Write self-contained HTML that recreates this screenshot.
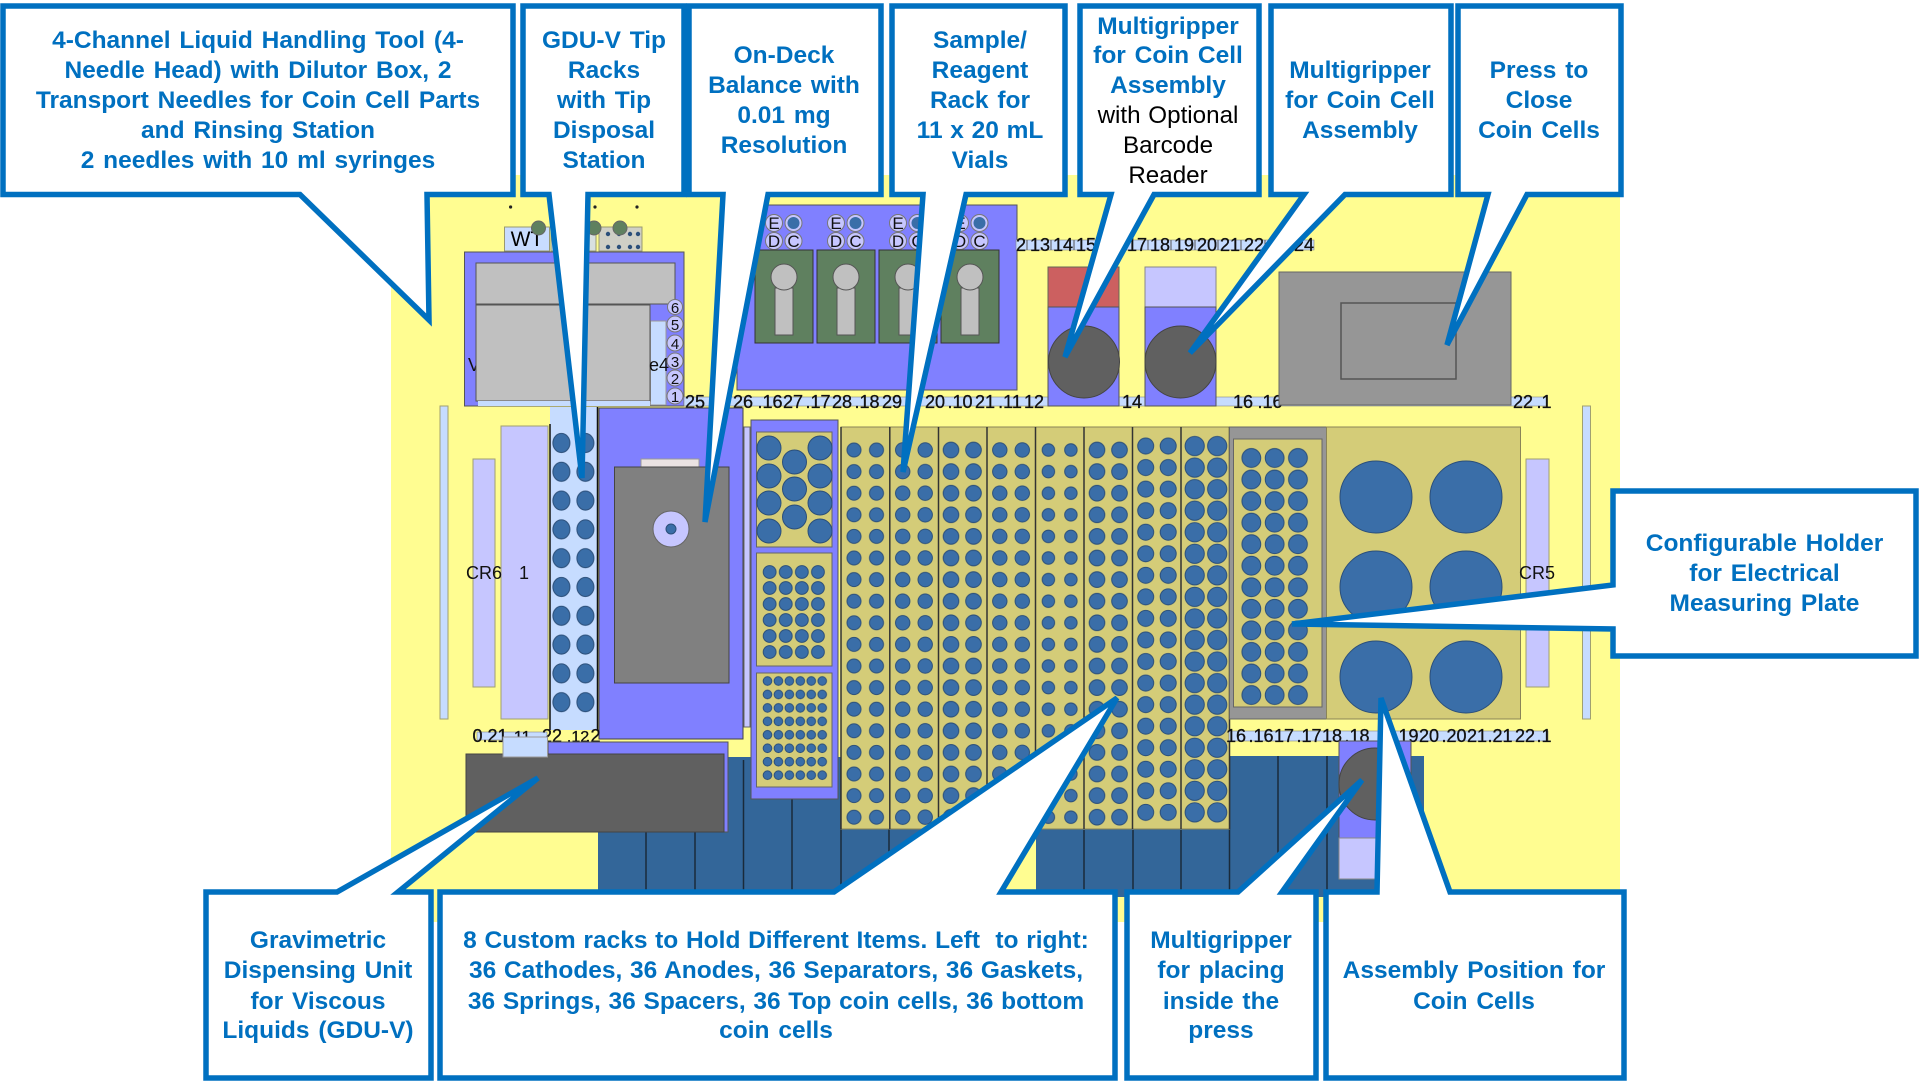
<!DOCTYPE html>
<html><head><meta charset="utf-8"><title>Deck layout</title>
<style>html,body{margin:0;padding:0;background:#fff}svg{display:block}
text{font-family:"Liberation Sans",sans-serif}
.c{font-size:24.5px;font-weight:bold;fill:#0070C0;text-anchor:middle;word-spacing:2px}
.w{word-spacing:.9px}
.k{font-size:24.2px;fill:#000;text-anchor:middle;word-spacing:1px}
.n{font-size:18px;fill:#111;text-anchor:middle;stroke:#111;stroke-width:.3}
.d{font-size:17px;fill:#111;text-anchor:middle}
.co{fill:#fff;stroke:#0070C0;stroke-width:5.5;stroke-linejoin:miter;stroke-miterlimit:4}
</style></head><body>
<svg xmlns="http://www.w3.org/2000/svg" width="1920" height="1083" viewBox="0 0 1920 1083">
<defs>
<pattern id="r1" patternUnits="userSpaceOnUse" x="842.75" y="439.2" width="22.5" height="21.6"><circle cx="11.25" cy="10.8" r="7" fill="#3A6EA8" stroke="#2B4F7A"/></pattern>
<pattern id="r2" patternUnits="userSpaceOnUse" x="891.45" y="439.2" width="22.5" height="21.6"><circle cx="11.25" cy="10.8" r="7.2" fill="#3A6EA8" stroke="#2B4F7A"/></pattern>
<pattern id="r3" patternUnits="userSpaceOnUse" x="939.75" y="439.2" width="22.5" height="21.6"><circle cx="11.25" cy="10.8" r="7.8" fill="#3A6EA8" stroke="#2B4F7A"/></pattern>
<pattern id="r4" patternUnits="userSpaceOnUse" x="988.55" y="439.2" width="22.5" height="21.6"><circle cx="11.25" cy="10.8" r="7.2" fill="#3A6EA8" stroke="#2B4F7A"/></pattern>
<pattern id="r5" patternUnits="userSpaceOnUse" x="1037.15" y="439.2" width="22.5" height="21.6"><circle cx="11.25" cy="10.8" r="6.2" fill="#3A6EA8" stroke="#2B4F7A"/></pattern>
<pattern id="r6" patternUnits="userSpaceOnUse" x="1085.75" y="439.2" width="22.5" height="21.6"><circle cx="11.25" cy="10.8" r="7.8" fill="#3A6EA8" stroke="#2B4F7A"/></pattern>
<pattern id="r7" patternUnits="userSpaceOnUse" x="1134.45" y="435.2" width="22.5" height="21.55"><circle cx="11.25" cy="10.8" r="8" fill="#3A6EA8" stroke="#2B4F7A"/></pattern>
<pattern id="r8" patternUnits="userSpaceOnUse" x="1183.45" y="435.2" width="22.5" height="21.55"><circle cx="11.25" cy="10.8" r="9.6" fill="#3A6EA8" stroke="#2B4F7A"/></pattern>
<pattern id="tip" patternUnits="userSpaceOnUse" x="549.4" y="428.6" width="24" height="28.8"><ellipse cx="12" cy="14.4" rx="8.5" ry="9.5" fill="#3A6EA8" stroke="#2B4F7A"/></pattern>
<pattern id="s2" patternUnits="userSpaceOnUse" x="761.6" y="564" width="16.1" height="16"><circle cx="8.05" cy="8" r="6.4" fill="#3A6EA8" stroke="#2B4F7A"/></pattern>
<pattern id="s3" patternUnits="userSpaceOnUse" x="762" y="674.3" width="10.95" height="13.45"><circle cx="5.47" cy="6.72" r="4.3" fill="#3A6EA8" stroke="#2B4F7A"/></pattern>
<pattern id="rr" patternUnits="userSpaceOnUse" x="1239.7" y="447.2" width="23.3" height="21.55"><circle cx="11.65" cy="10.8" r="9.4" fill="#3A6EA8" stroke="#2B4F7A"/></pattern>
</defs>
<rect width="1920" height="1083" fill="#fff"/>
<rect x="391" y="175" width="1229" height="747" fill="#FFFD91"/>

<!-- top-left tool -->
<circle cx="510.6" cy="207" r="1.6" fill="#222"/><circle cx="595" cy="207" r="1.6" fill="#222"/><circle cx="637" cy="207" r="1.6" fill="#222"/>
<rect x="504.5" y="227" width="45" height="24" fill="#C8DCFF" stroke="#9a9a70"/>
<text x="527" y="246" class="k" style="font-size:21px">WT</text>
<rect x="551" y="227" width="45" height="24" fill="#D8E0E0" stroke="#9a9a70"/>
<rect x="599" y="227" width="43" height="24" fill="#CFCFC6" stroke="#9a9a70"/>
<g fill="#2B4F7A"><circle cx="608" cy="234" r="2.2"/><circle cx="619" cy="234" r="2.2"/><circle cx="630" cy="234" r="2.2"/><circle cx="638" cy="234" r="2.2"/><circle cx="608" cy="247" r="2.2"/><circle cx="619" cy="247" r="2.2"/><circle cx="630" cy="247" r="2.2"/><circle cx="638" cy="247" r="2.2"/></g>
<g fill="#5F805F" stroke="#666"><circle cx="538.5" cy="228" r="7"/><circle cx="594" cy="228" r="7"/><circle cx="620" cy="228" r="7"/></g>
<rect x="464.5" y="252" width="219.5" height="154" fill="#8080FF" stroke="#555"/>
<text x="474" y="371" class="d" style="font-size:18px">V</text>
<rect x="476" y="263" width="199" height="41" fill="#C0C0C0" stroke="#555"/>
<rect x="650.5" y="321" width="15.5" height="84" fill="#C6DCFF" stroke="#999"/>
<rect x="476" y="305" width="174" height="96" fill="#C0C0C0" stroke="#555"/>
<rect x="478" y="401" width="172" height="5" fill="#C6DCFF"/>
<text x="659" y="371" class="d" style="font-size:18px">e4</text>
<g fill="#C6C6FF" stroke="#777"><circle cx="675" cy="307" r="7.5"/><circle cx="675" cy="324" r="8"/><circle cx="675" cy="343" r="8"/><circle cx="675" cy="361" r="8"/><circle cx="675" cy="378" r="8"/><circle cx="675" cy="396" r="8"/></g>
<g><text x="675" y="313" class="d" style="font-size:15px">6</text><text x="675" y="330" class="d" style="font-size:15px">5</text><text x="675" y="349" class="d" style="font-size:15px">4</text><text x="675" y="367" class="d" style="font-size:15px">3</text><text x="675" y="384" class="d" style="font-size:15px">2</text><text x="675" y="402" class="d" style="font-size:15px">1</text></g>

<!-- station block -->
<rect x="737" y="205" width="280" height="185" fill="#8080FF" stroke="#555"/>
<g id="st">
<g fill="#C6C6FF" stroke="#777"><circle cx="774" cy="223" r="8.5"/><circle cx="793.5" cy="223" r="8.5"/><circle cx="774" cy="241" r="8.5"/><circle cx="793.5" cy="241" r="8.5"/></g>
<circle cx="793.5" cy="223" r="6" fill="#3A6EA8"/>
<text x="774" y="229" class="d">E</text><text x="774" y="247" class="d">D</text><text x="793.5" y="247" class="d">C</text>
<rect x="755" y="250" width="58" height="93" fill="#5F805F" stroke="#333"/>
<rect x="775" y="288" width="18" height="47" fill="#C0C0C0" stroke="#555"/>
<circle cx="784" cy="277" r="13" fill="#C0C0C0" stroke="#555"/>
</g>
<use href="#st" x="62"/><use href="#st" x="124"/><use href="#st" x="186"/>

<!-- top strip 2 -->
<rect x="1016" y="240" width="298" height="10" fill="#C6DCFF" stroke="#888" stroke-width=".6"/>
<path d="M1027 240V250M1051 240V250M1074 240V250M1097 240V250M1148 240V250M1171 240V250M1195 240V250M1218 240V250M1241 240V250M1265 240V250M1289 240V250" stroke="#555"/>
<g><text x="1021" y="251" class="n">2</text><text x="1040" y="251" class="n">13</text><text x="1063" y="251" class="n">14</text><text x="1086" y="251" class="n">15</text><text x="1137" y="251" class="n">17</text><text x="1160" y="251" class="n">18</text><text x="1184" y="251" class="n">19</text><text x="1207" y="251" class="n">20</text><text x="1230" y="251" class="n">21</text><text x="1254" y="251" class="n">22</text><text x="1304" y="251" class="n">24</text></g>

<!-- main strip upper -->
<rect x="684" y="397" width="863" height="9" fill="#C6DCFF" stroke="#888" stroke-width=".6"/>
<g><text x="695" y="408" class="n">25</text><text x="743" y="408" class="n">26</text><text x="770" y="408" class="n">.16</text><text x="793" y="408" class="n">27</text><text x="818" y="408" class="n">.17</text><text x="842" y="408" class="n">28</text><text x="867" y="408" class="n">.18</text><text x="892" y="408" class="n">29</text><text x="935" y="408" class="n">20</text><text x="960" y="408" class="n">.10</text><text x="985" y="408" class="n">21</text><text x="1010" y="408" class="n">.11</text><text x="1034" y="408" class="n">12</text><text x="1132" y="408" class="n">14</text><text x="1243" y="408" class="n">16</text><text x="1270" y="408" class="n">.16</text><text x="1523" y="408" class="n">22</text><text x="1544" y="408" class="n">.1</text></g>

<!-- tall modules -->
<rect x="1048" y="267" width="71" height="40" fill="#CC6060" stroke="#665"/>
<rect x="1048" y="307" width="71" height="99" fill="#8080FF" stroke="#555"/>
<ellipse cx="1084" cy="362" rx="35.5" ry="36" fill="#606060" stroke="#444"/>
<rect x="1145" y="267" width="71" height="40" fill="#C6C6FF" stroke="#888"/>
<rect x="1145" y="307" width="71" height="99" fill="#8080FF" stroke="#555"/>
<ellipse cx="1180.5" cy="362" rx="35.5" ry="36" fill="#606060" stroke="#444"/>
<rect x="1279" y="272" width="232" height="133" fill="#969696" stroke="#666"/>
<rect x="1341" y="303" width="115" height="76" fill="#969696" stroke="#555" stroke-width="1.5"/>

<!-- left bars -->
<rect x="440" y="406" width="8" height="313" fill="#C6DCFF" stroke="#a0a070"/>
<rect x="473" y="459" width="22" height="228" fill="#C6C6FF" stroke="#a0a070"/>
<rect x="501" y="426" width="47" height="293" fill="#C6C6FF" stroke="#a0a070"/>
<text x="484" y="579" class="n" style="stroke:none">CR6</text><text x="524" y="579" class="n" style="stroke:none">1</text>
<rect x="550" y="407" width="47" height="323" fill="#C6DCFF"/>
<rect x="549.4" y="428.6" width="48" height="288" fill="url(#tip)"/>
<path d="M550 424V730M597.5 407V730" stroke="#111" stroke-width="1.5"/>

<!-- blue racks bottom -->
<rect x="598" y="757" width="389" height="140" fill="#336699"/>
<rect x="1036" y="800" width="194" height="97" fill="#336699"/>
<rect x="1229.5" y="756" width="194.5" height="141" fill="#336699"/>
<path d="M646 830V892M695 830V892M743.5 760V892M792 760V892M841 760V892M889 760V892M938 760V892M1084 830V892M1133 830V892M1181 830V892M1229.5 756V892M1278 756V892M1327 756V892" stroke="#1a2a3a" stroke-width="1.5"/>

<!-- balance -->
<rect x="599" y="408" width="144" height="331" fill="#8080FF" stroke="#444"/>
<rect x="641" y="459" width="58" height="8" fill="#EAE2E2" stroke="#999"/>
<rect x="614.5" y="467" width="114.5" height="216" fill="#808080" stroke="#444"/>
<circle cx="671" cy="529" r="18" fill="#C6C6FF" stroke="#666"/>
<circle cx="671" cy="529" r="5" fill="#3A6EA8" stroke="#2B4F7A"/>
<rect x="744" y="427" width="6" height="300" fill="#C6C6FF" stroke="#666"/>

<!-- holder -->
<rect x="751" y="420" width="87" height="379" fill="#8080FF" stroke="#555"/>
<rect x="756.5" y="432" width="75.5" height="115" fill="#D4CC78" stroke="#666"/>
<g fill="#3A6EA8" stroke="#2B4F7A"><circle cx="769" cy="448" r="12"/><circle cx="769" cy="476" r="12"/><circle cx="769" cy="503" r="12"/><circle cx="769" cy="531" r="12"/><circle cx="820" cy="448" r="12"/><circle cx="820" cy="476" r="12"/><circle cx="820" cy="503" r="12"/><circle cx="820" cy="531" r="12"/><circle cx="794.5" cy="462" r="12"/><circle cx="794.5" cy="489" r="12"/><circle cx="794.5" cy="517" r="12"/></g>
<rect x="756.5" y="553" width="75.5" height="113" fill="#D4CC78" stroke="#666"/>
<rect x="761.6" y="564" width="64.4" height="96" fill="url(#s2)"/>
<rect x="756.5" y="673" width="75.5" height="114" fill="#D4CC78" stroke="#666"/>
<rect x="762" y="674.3" width="65.7" height="107.6" fill="url(#s3)"/>

<!-- custom racks -->
<rect x="841" y="427" width="388.5" height="402" fill="#D4CC78" stroke="#8a8458"/>
<rect x="842.75" y="439.2" width="45" height="388.8" fill="url(#r1)"/>
<rect x="891.45" y="439.2" width="45" height="388.8" fill="url(#r2)"/>
<rect x="939.75" y="439.2" width="45" height="388.8" fill="url(#r3)"/>
<rect x="988.55" y="439.2" width="45" height="388.8" fill="url(#r4)"/>
<rect x="1037.15" y="439.2" width="45" height="388.8" fill="url(#r5)"/>
<rect x="1085.75" y="439.2" width="45" height="388.8" fill="url(#r6)"/>
<rect x="1134.45" y="435.2" width="45" height="387.9" fill="url(#r7)"/>
<rect x="1183.45" y="435.2" width="45" height="387.9" fill="url(#r8)"/>
<path d="M841 427V829M889.8 427V829M938.5 427V829M987 427V829M1035.5 427V829M1084 427V829M1132.5 427V829M1181 427V829M1229.5 427V829" stroke="#333" stroke-width="1.5"/>

<!-- right racks -->
<rect x="1229.5" y="427" width="97" height="292" fill="#969696" stroke="#666"/>
<rect x="1233.5" y="439" width="88.5" height="268" fill="#D4CC78" stroke="#666"/>
<rect x="1239.7" y="447.2" width="69.9" height="258.6" fill="url(#rr)"/>
<rect x="1326.5" y="427" width="194" height="292" fill="#D4CC78" stroke="#8a8458"/>
<g fill="#3A6EA8" stroke="#2B4F7A"><circle cx="1376" cy="497" r="36"/><circle cx="1466" cy="497" r="36"/><circle cx="1376" cy="587" r="36"/><circle cx="1466" cy="587" r="36"/><circle cx="1376" cy="677" r="36"/><circle cx="1466" cy="677" r="36"/></g>
<rect x="1526" y="459" width="23" height="228" fill="#C6C6FF" stroke="#a0a070"/>
<text x="1537" y="579" class="n" style="stroke:none">CR5</text>
<rect x="1582.5" y="406" width="8" height="313" fill="#C6DCFF" stroke="#a0a070"/>

<!-- lower strips -->
<rect x="477" y="732" width="70" height="8" fill="#C6DCFF" stroke="#888" stroke-width=".6"/>
<text x="490" y="742" class="n">0.21</text><text x="520" y="742" class="n" style="font-size:16px">.11</text><text x="552" y="742" class="n">22</text><text x="578" y="742" class="n" style="font-size:16px">.12</text><text x="593" y="742" class="n">.2</text>
<rect x="1229" y="731" width="319" height="10" fill="#C6DCFF" stroke="#888" stroke-width=".6"/>
<g><text x="1236" y="742" class="n">16</text><text x="1261" y="742" class="n">.16</text><text x="1284" y="742" class="n">17</text><text x="1309" y="742" class="n">.17</text><text x="1332" y="742" class="n">18</text><text x="1357" y="742" class="n">.18</text><text x="1406" y="742" class="n">.19</text><text x="1429" y="742" class="n">20</text><text x="1454" y="742" class="n">.20</text><text x="1477" y="742" class="n">21</text><text x="1500" y="742" class="n">.21</text><text x="1525" y="742" class="n">22</text><text x="1544" y="742" class="n">.1</text></g>

<!-- GDU-V -->
<rect x="548" y="742" width="180" height="90" fill="#8080FF" stroke="#555"/>
<rect x="466" y="754" width="258" height="78" fill="#606060" stroke="#444"/>
<rect x="503" y="737" width="44.5" height="20" fill="#C6DCFF" stroke="#999"/>

<!-- lower multigripper -->
<rect x="1339" y="741" width="72" height="97" fill="#8080FF" stroke="#555"/>
<ellipse cx="1375" cy="784" rx="36" ry="36" fill="#606060" stroke="#444"/>
<rect x="1339" y="838" width="72" height="41" fill="#C6C6FF" stroke="#888"/>

<!-- callouts -->
<path class="co" d="M3 6H513V194.5H427L429 320L300 194.5H3Z"/>
<path class="co" d="M523 6H684V194.5H588L582 478L549 194.5H523Z"/>
<path class="co" d="M689 6H881V194.5H768L705 522L723 194.5H689Z"/>
<path class="co" d="M892 6H1065V194.5H966L903 472L923 194.5H892Z"/>
<path class="co" d="M1080 6H1259V194.5H1154L1065 357L1111 194.5H1080Z"/>
<path class="co" d="M1271 6H1451V194.5H1345L1190 353L1304 194.5H1271Z"/>
<path class="co" d="M1458 6H1621V194.5H1527L1447 345L1488 194.5H1458Z"/>
<path class="co" d="M1613 491H1916V656H1613V629L1292 624L1613 585Z"/>
<path class="co" d="M206 892H337L538 778L398 892H431V1078H206Z"/>
<path class="co" d="M440 892H834L1117 698L1001 892H1115V1078H440Z"/>
<path class="co" d="M1127 892H1238L1362 780L1282 892H1316V1078H1127Z"/>
<path class="co" d="M1326 892H1377L1381 698L1450 892H1624V1078H1326Z"/>

<!-- callout text -->
<text x="258" y="48" class="c">4-Channel Liquid Handling Tool (4-</text>
<text x="258" y="78" class="c">Needle Head) with Dilutor Box, 2</text>
<text x="258" y="108" class="c">Transport Needles for Coin Cell Parts</text>
<text x="258" y="138" class="c">and Rinsing Station</text>
<text x="258" y="168" class="c">2 needles with 10 ml syringes</text>
<text x="604" y="48" class="c">GDU-V Tip</text>
<text x="604" y="78" class="c">Racks</text>
<text x="604" y="108" class="c">with Tip</text>
<text x="604" y="138" class="c">Disposal</text>
<text x="604" y="168" class="c">Station</text>
<text x="784" y="63" class="c">On-Deck</text>
<text x="784" y="93" class="c">Balance with</text>
<text x="784" y="123" class="c">0.01 mg</text>
<text x="784" y="153" class="c">Resolution</text>
<text x="980" y="48" class="c">Sample/</text>
<text x="980" y="78" class="c">Reagent</text>
<text x="980" y="108" class="c">Rack for</text>
<text x="980" y="138" class="c w">11 x 20 mL</text>
<text x="980" y="168" class="c">Vials</text>
<text x="1168" y="34" class="c">Multigripper</text>
<text x="1168" y="63" class="c">for Coin Cell</text>
<text x="1168" y="93" class="c">Assembly</text>
<text x="1168" y="123" class="k">with Optional</text>
<text x="1168" y="153" class="k">Barcode</text>
<text x="1168" y="183" class="k">Reader</text>
<text x="1360" y="78" class="c">Multigripper</text>
<text x="1360" y="108" class="c">for Coin Cell</text>
<text x="1360" y="138" class="c">Assembly</text>
<text x="1539" y="78" class="c">Press to</text>
<text x="1539" y="108" class="c">Close</text>
<text x="1539" y="138" class="c">Coin Cells</text>
<text x="1764.5" y="551" class="c">Configurable Holder</text>
<text x="1764.5" y="581" class="c">for Electrical</text>
<text x="1764.5" y="611" class="c">Measuring Plate</text>
<text x="318" y="948" class="c">Gravimetric</text>
<text x="318" y="978" class="c">Dispensing Unit</text>
<text x="318" y="1009" class="c">for Viscous</text>
<text x="318" y="1038" class="c">Liquids (GDU-V)</text>
<text x="776" y="948" class="c w">8 Custom racks to Hold Different Items. Left&#160; to right:</text>
<text x="776" y="978" class="c w">36 Cathodes, 36 Anodes, 36 Separators, 36 Gaskets,</text>
<text x="776" y="1009" class="c w">36 Springs, 36 Spacers, 36 Top coin cells, 36 bottom</text>
<text x="776" y="1038" class="c">coin cells</text>
<text x="1221" y="948" class="c">Multigripper</text>
<text x="1221" y="978" class="c">for placing</text>
<text x="1221" y="1009" class="c">inside the</text>
<text x="1221" y="1038" class="c">press</text>
<text x="1474" y="978" class="c">Assembly Position for</text>
<text x="1474" y="1009" class="c">Coin Cells</text>
</svg>
</body></html>
